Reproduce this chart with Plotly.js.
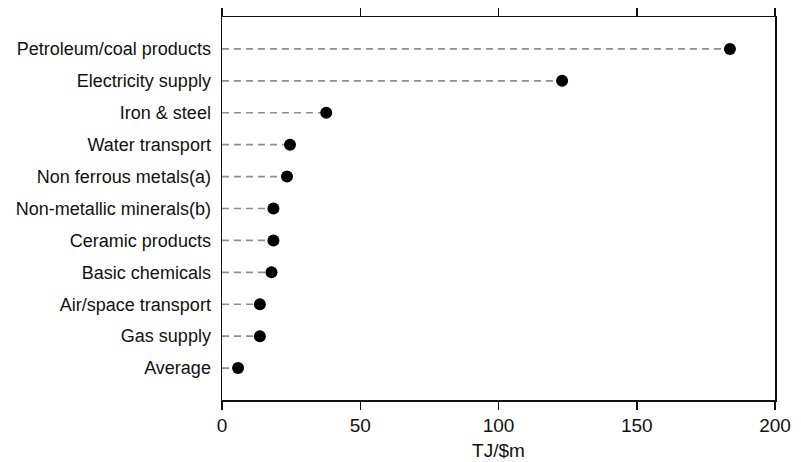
<!DOCTYPE html>
<html>
<head>
<meta charset="utf-8">
<script src="https://cdn.plot.ly/plotly-3.0.1.min.js"></script>
<style>
  html, body { margin: 0; padding: 0; background: #fff; }
  #chart { width: 801px; height: 462px; }
</style>
</head>
<body>
<div id="chart"></div>
<script>
// Energy intensity by industry, top to bottom
const industries = [
  "Petroleum/coal products",
  "Electricity supply",
  "Iron & steel",
  "Water transport",
  "Non ferrous metals(a)",
  "Non-metallic minerals(b)",
  "Ceramic products",
  "Basic chemicals",
  "Air/space transport",
  "Gas supply",
  "Average"
];
const intensity = [183.7, 123.0, 37.7, 24.6, 23.5, 18.6, 18.6, 17.9, 13.7, 13.7, 5.8];
const xTicks = [0, 50, 100, 150, 200];

// Dashed leader from the axis to each dot
const leadX = [], leadY = [];
industries.forEach((name, i) => {
  leadX.push(0, intensity[i], null);
  leadY.push(name, name, null);
});

const traces = [
  {
    type: "scatter", mode: "lines",
    x: leadX, y: leadY,
    line: { color: "#8f8f8f", width: 1.6, dash: "7px,5px" },
    hoverinfo: "skip", showlegend: false, cliponaxis: false
  },
  {
    type: "scatter", mode: "markers",
    x: intensity, y: industries,
    marker: { color: "#000", size: 12 },
    showlegend: false, cliponaxis: false
  }
];

const layout = {
  width: 801, height: 462,
  margin: { l: 222, r: 26, t: 17, b: 62 },
  paper_bgcolor: "#fff", plot_bgcolor: "#fff",
  font: { family: "Liberation Sans, Arial, sans-serif", size: 18, color: "#111" },
  xaxis: {
    range: [0, 200],
    tickvals: xTicks,
    ticktext: xTicks.map(String),
    ticks: "outside", ticklen: 8, tickwidth: 1.5, tickcolor: "#111",
    showline: true, linecolor: "#111", linewidth: 1.5, mirror: "ticks",
    showgrid: false, zeroline: false,
    tickfont: { size: 19 },
    title: { text: "TJ/$m", font: { size: 19 }, standoff: 8 }
  },
  yaxis: {
    type: "category",
    categoryorder: "array", categoryarray: industries,
    range: [11, -1],
    ticks: "", showline: true, linecolor: "#111", linewidth: 1.5, mirror: true,
    showgrid: false, zeroline: false,
    ticklabelstandoff: 6,
    tickfont: { size: 18 }
  }
};

Plotly.newPlot("chart", traces, layout, { displayModeBar: false, staticPlot: true });
</script>
</body>
</html>
